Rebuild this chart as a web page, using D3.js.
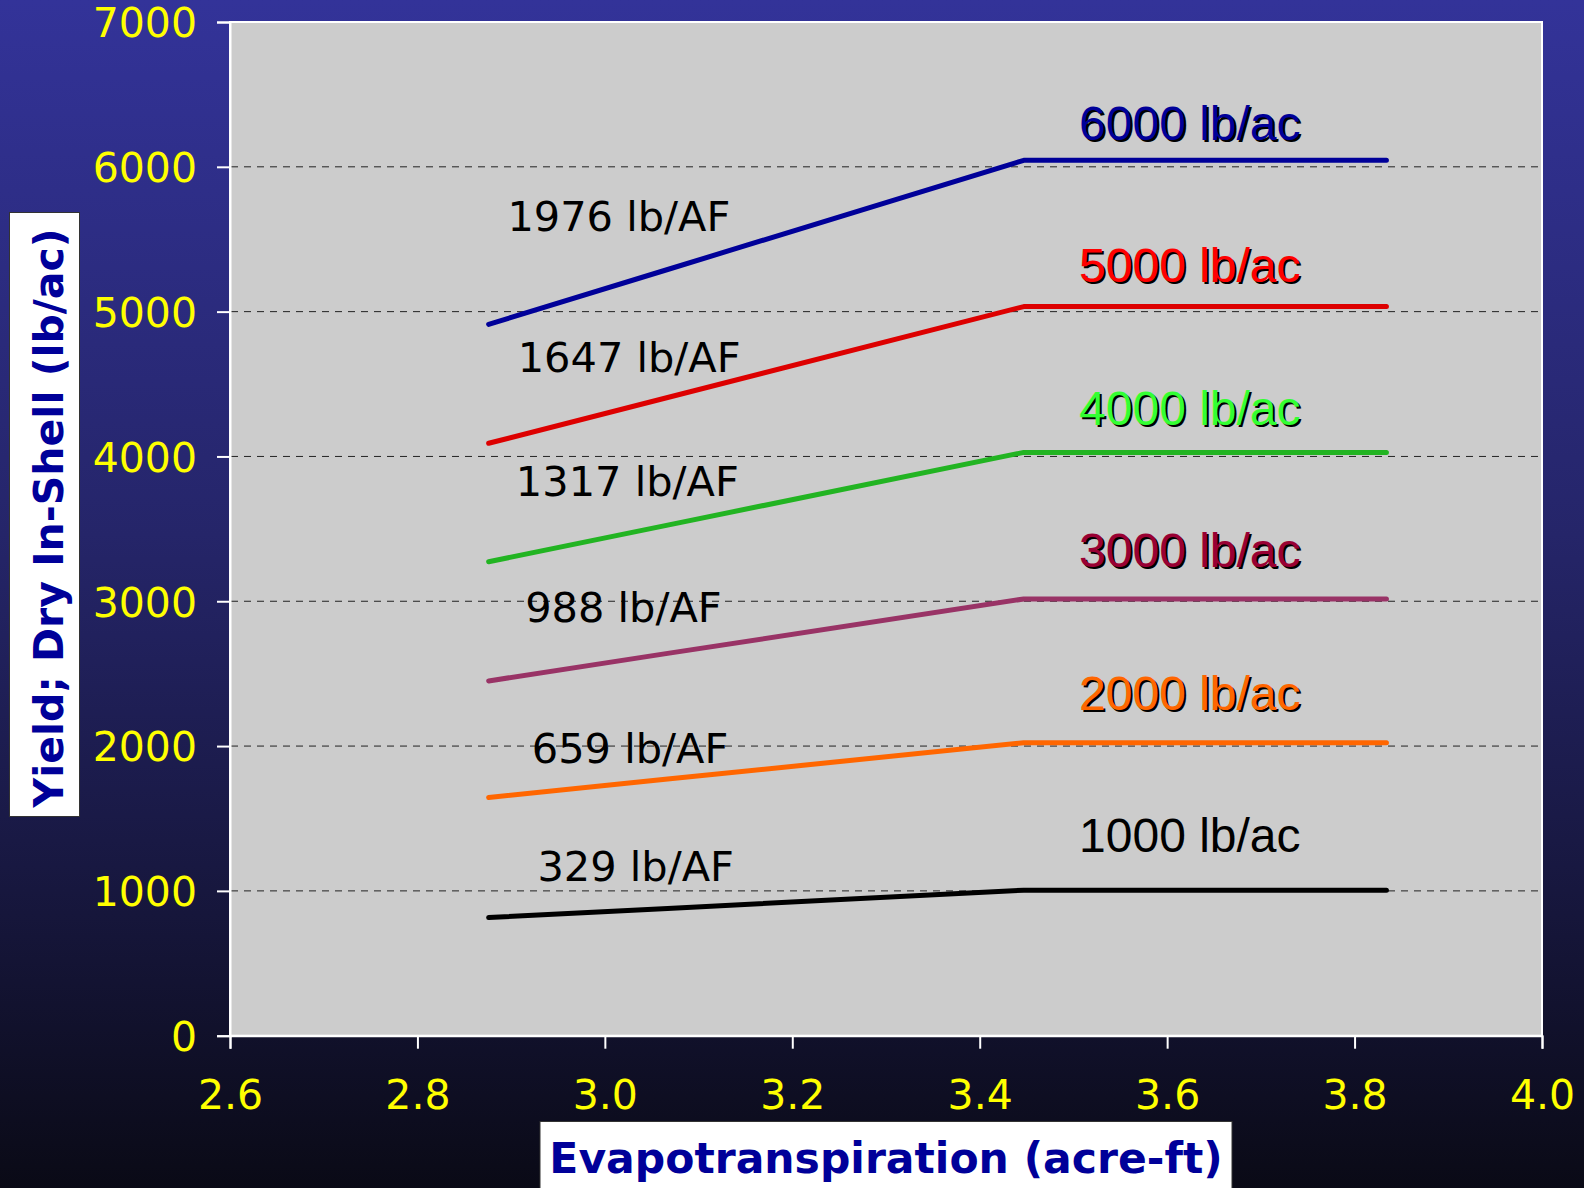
<!DOCTYPE html>
<html><head><meta charset="utf-8">
<script src="https://cdn.jsdelivr.net/npm/d3@7"></script>
<style>html,body{margin:0;padding:0;background:#000;} svg{display:block;}</style>
</head><body>
<svg id="chart" width="1584" height="1188"></svg>
<script>
// ---- data ----
const etValues = [2.876, 3.067, 3.447, 3.834];   // acre-ft
const yield6000 = [4912, 5291, 6045, 6045];
const yield5000 = [4091, 4407, 5035, 5035];
const yield4000 = [3273, 3526, 4028, 4028];
const yield3000 = [2450, 2640, 3016, 3016];
const yield2000 = [1645, 1772, 2023, 2023];
const yield1000 = [816, 879, 1005, 1005];
const levelLabels = ["6000 lb/ac", "5000 lb/ac", "4000 lb/ac", "3000 lb/ac", "2000 lb/ac", "1000 lb/ac"];
const levelValues = [6000, 5000, 4000, 3000, 2000, 1000];
const slopeLabels = ["1976 lb/AF", "1647 lb/AF", "1317 lb/AF", "988 lb/AF", "659 lb/AF", "329 lb/AF"];
const slopeLabelET = [2.896, 2.907, 2.905, 2.915, 2.922, 2.928];
const slopeLabelYield = [5556, 4580, 3730, 2858, 1886, 1070];
const xTicks = [2.6, 2.8, 3.0, 3.2, 3.4, 3.6, 3.8, 4.0];
const yTicks = [0, 1000, 2000, 3000, 4000, 5000, 6000, 7000];
const gridValues = [1000, 2000, 3000, 4000, 5000, 6000];

const seriesList = [yield6000, yield5000, yield4000, yield3000, yield2000, yield1000];
const lineColors = ["#000099", "#dd0000", "#22b422", "#993366", "#ff6600", "#000000"];
const labelColors = ["#000099", "#ff0000", "#33ff33", "#990033", "#ff6600", "#000000"];
const labelShadow = [true, true, true, true, true, false];

// ---- layout ----
const svg = d3.select("#chart");
const L = 230, R = 1542, T = 22, B = 1035.7;
const x = d3.scaleLinear().domain([2.6, 4.0]).range([L, R]);
const y = d3.scaleLinear().domain([0, 7000]).range([B, T]);

const defs = svg.append("defs");
const grad = defs.append("linearGradient").attr("id", "bg").attr("x1", 0).attr("y1", 0).attr("x2", 0).attr("y2", 1);
grad.append("stop").attr("offset", "0%").attr("stop-color", "#333399");
grad.append("stop").attr("offset", "45%").attr("stop-color", "#252569");
grad.append("stop").attr("offset", "75%").attr("stop-color", "#17173e");
grad.append("stop").attr("offset", "100%").attr("stop-color", "#0a0a16");
svg.append("rect").attr("width", 1584).attr("height", 1188).attr("fill", "url(#bg)");

// plot area
svg.append("rect").attr("x", L).attr("y", T).attr("width", R - L).attr("height", B - T)
  .attr("fill", "#cccccc").attr("stroke", "#ffffff").attr("stroke-width", 2);

// gridlines
svg.append("g").selectAll("line").data(gridValues).join("line")
  .attr("x1", L + 1).attr("x2", R - 1)
  .attr("y1", d => y(d)).attr("y2", d => y(d))
  .attr("stroke", "#222").attr("stroke-width", 1).attr("stroke-dasharray", "7,6");

// axes
const yAxis = d3.axisLeft(y).tickValues(yTicks).tickSize(13).tickPadding(20).tickFormat(d3.format("d"));
const gy = svg.append("g").attr("transform", `translate(${L},0)`).call(yAxis);
gy.select(".domain").attr("stroke", "#fff").attr("stroke-width", 2);
gy.selectAll(".tick line").attr("stroke", "#fff").attr("stroke-width", 2);
gy.selectAll(".tick text").attr("fill", "#ffff00").attr("font-family", "DejaVu Sans")
  .attr("font-size", 41).attr("dy", "0.36em");

const xAxis = d3.axisBottom(x).tickValues(xTicks).tickSize(13).tickPadding(0).tickFormat(d3.format(".1f"));
const gx = svg.append("g").attr("transform", `translate(0,${B})`).call(xAxis);
gx.select(".domain").attr("stroke", "#fff").attr("stroke-width", 2);
gx.selectAll(".tick line").attr("stroke", "#fff").attr("stroke-width", 2);
gx.selectAll(".tick text").attr("fill", "#ffff00").attr("font-family", "DejaVu Sans")
  .attr("font-size", 41).attr("dy", null).attr("y", 73);

// lines
const lineGen = d3.line().x((d, i) => x(etValues[i])).y(d => y(d));
svg.append("g").selectAll("path").data(seriesList).join("path")
  .attr("d", d => lineGen(d)).attr("fill", "none")
  .attr("stroke", (d, i) => lineColors[i]).attr("stroke-width", 5)
  .attr("stroke-linecap", "round").attr("stroke-linejoin", "round");

// level labels (with shadow)
const labelY = d3.scaleLinear().domain([6000, 1000]).range([140, 852]);
const labelX = x(3.506);
const lg = svg.append("g").attr("font-family", "Liberation Sans, Arial, sans-serif").attr("font-size", 48);
const idx = d3.range(levelLabels.length);
lg.selectAll("text.sh").data(idx.filter(i => labelShadow[i])).join("text").attr("class", "sh")
  .attr("x", labelX + 2).attr("y", i => labelY(levelValues[i]) + 2)
  .attr("fill", "#000").text(i => levelLabels[i]);
lg.selectAll("text.fg").data(idx).join("text").attr("class", "fg")
  .attr("x", labelX).attr("y", i => labelY(levelValues[i]))
  .attr("fill", i => labelColors[i]).text(i => levelLabels[i]);

// slope labels
svg.append("g").selectAll("text").data(slopeLabels).join("text")
  .attr("x", (d, i) => x(slopeLabelET[i])).attr("y", (d, i) => y(slopeLabelYield[i]))
  .attr("font-family", "DejaVu Sans").attr("font-size", 41.5).attr("fill", "#000")
  .text(d => d);

// x-axis title box
svg.append("rect").attr("x", 540).attr("y", 1121.5).attr("width", 692).attr("height", 80)
  .attr("fill", "#fff").attr("stroke", "#333").attr("stroke-width", 1);
svg.append("text").attr("x", 886).attr("y", 1173).attr("text-anchor", "middle")
  .attr("font-family", "DejaVu Sans").attr("font-weight", "bold").attr("font-size", 42.5)
  .attr("fill", "#000099").text("Evapotranspiration (acre-ft)");

// y-axis title box
svg.append("rect").attr("x", 9.5).attr("y", 212.5).attr("width", 70).attr("height", 604)
  .attr("fill", "#fff").attr("stroke", "#333").attr("stroke-width", 1);
svg.append("text").attr("transform", "translate(63,518) rotate(-90)").attr("text-anchor", "middle")
  .attr("font-family", "DejaVu Sans").attr("font-weight", "bold").attr("font-size", 41)
  .attr("fill", "#000099").text("Yield; Dry In-Shell (lb/ac)");
</script>
</body></html>
